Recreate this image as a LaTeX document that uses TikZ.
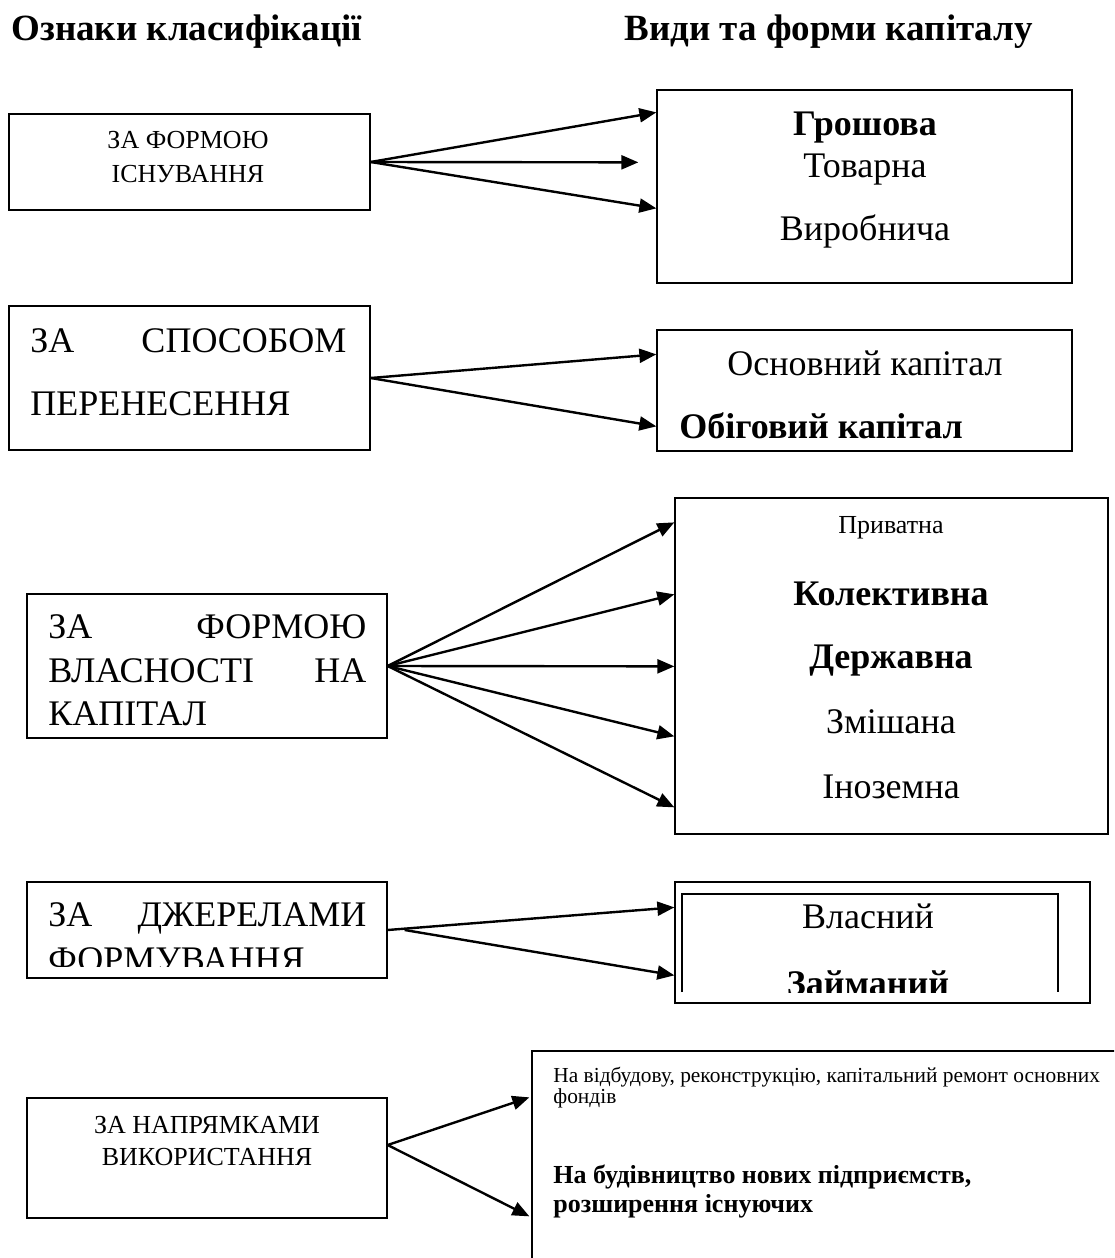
\documentclass[tikz,border=0pt]{standalone}
\usepackage{fontspec}
\setmainfont{Liberation Serif}
\usetikzlibrary{arrows.meta,calc}
\newcommand{\bigtxt}{\fontsize{18}{21.6}\selectfont}
\newcommand{\ttltxt}{\fontsize{18.5}{22}\selectfont}
\newcommand{\smltxt}{\fontsize{13}{15.6}\selectfont}
\newcommand{\tinytxt}{\fontsize{10.7}{12.8}\selectfont}
\tikzset{
	box/.style={draw, line width=0.65pt, inner sep=0pt},
	arr/.style={-{Triangle[length=8.5pt,width=7pt]}, line width=1.2pt},
	lbl/.style={inner sep=0pt, anchor=base},
	lblw/.style={inner sep=0pt, anchor=base west}
}
\begin{document}
\begin{tikzpicture}[x=0.5pt, y=-0.5pt]
		\useasboundingbox (0,0) rectangle (1114,1258);
		\clip (0,0) rectangle (1114,1258);
		\node[lblw] (ttlA) at (11,40) {\ttltxt\bfseries Ознаки класифікації};
		\node[lblw] (ttlB) at (624,40) {\ttltxt\bfseries Види та форми капіталу};

		\node[box, minimum width=180.5pt, minimum height=48pt] (fA) at (189.5,162) {};
		\node[box, minimum width=180.5pt, minimum height=72pt] (fB) at (189.5,378) {};
		\node[box, minimum width=180pt, minimum height=72pt] (fC) at (207,666) {};
		\node[box, minimum width=180pt, minimum height=48pt] (fD) at (207,930) {};
		\node[box, minimum width=180pt, minimum height=60pt] (fE) at (207,1158) {};

		\node[box, minimum width=207.5pt, minimum height=96.5pt] (vA) at (864.5,186.5) {};
		\node[box, minimum width=207.5pt, minimum height=60.5pt] (vB) at (864.5,390.5) {};
		\node[box, minimum width=216.5pt, minimum height=168pt] (vC) at (891.5,666) {};
		\node[box, minimum width=207.5pt, minimum height=60.5pt] (vD) at (882.5,942.5) {};
		\node[box, minimum width=299pt, minimum height=109.5pt] (vE) at (831,1160.5) {};
		\draw[line width=1pt] (682,992) -- (682,894) -- (1058,894) -- (1058,992);

		\node[lbl] (fA1) at (188,148) {\smltxt ЗА ФОРМОЮ};
		\node[lbl] (fA2) at (188,182) {\smltxt ІСНУВАННЯ};
		\node[lblw] (fB1) at (30,352) {\bigtxt\hbox to 158pt{ЗА\hfill СПОСОБОМ}};
		\node[lblw] (fB2) at (30,415) {\bigtxt ПЕРЕНЕСЕННЯ};
		\node[lblw] (fC1) at (48,638) {\bigtxt\hbox to 159pt{ЗА\hfill ФОРМОЮ}};
		\node[lblw] (fC2) at (48,682) {\bigtxt\hbox to 159pt{ВЛАСНОСТІ\hfill НА}};
		\node[lblw] (fC3) at (48,725) {\bigtxt КАПІТАЛ};
		\node[lblw] (fD1) at (48,926) {\bigtxt\hbox to 159pt{ЗА\hfill ДЖЕРЕЛАМИ}};
		\begin{scope}
			\clip (27,882) rectangle (387,966);
			\node[lblw] (fD2) at (48,971) {\bigtxt ФОРМУВАННЯ};
		\end{scope}
		\node[lbl] (fE1) at (207,1133) {\smltxt ЗА НАПРЯМКАМИ};
		\node[lbl] (fE2) at (207,1165) {\smltxt ВИКОРИСТАННЯ};

		\node[lbl] (vA1) at (865,135) {\bigtxt\bfseries Грошова};
		\node[lbl] (vA2) at (865,177) {\bigtxt Товарна};
		\node[lbl] (vA3) at (865,240) {\bigtxt Виробнича};
		\node[lbl] (vB1) at (865,375) {\bigtxt Основний капітал};
		\node[lblw] (vB2) at (679,438) {\bigtxt\bfseries Обіговий капітал};
		\node[lbl] (vC1) at (891,533) {\smltxt Приватна};
		\node[lbl] (vC2) at (891,605) {\bigtxt\bfseries Колективна};
		\node[lbl] (vC3) at (891,668) {\bigtxt\bfseries Державна};
		\node[lbl] (vC4) at (891,733) {\bigtxt Змішана};
		\node[lbl] (vC5) at (891,798) {\bigtxt Іноземна};
		\node[lbl] (vD1) at (868,928) {\bigtxt Власний};
		\begin{scope}
			\clip (682,894) rectangle (1058,992);
			\node[lbl] (vD2) at (868,995) {\bigtxt\bfseries Займаний};
		\end{scope}
		\node[lblw] (vE1) at (553,1082) {\tinytxt На відбудову, реконструкцію, капітальний ремонт основних};
		\node[lblw] (vE2) at (553,1103) {\tinytxt фондів};
		\node[lblw] (vE3) at (553,1183) {\smltxt\bfseries На будівництво нових підприємств,};
		\node[lblw] (vE4) at (553,1212) {\smltxt\bfseries розширення існуючих};

		\draw[arr] (fA.east) -- ($(vA.north west)+(0,23)$);
		\draw[arr] (fA.east) -- ($(vA.north west)+(-18,73)$);
		\draw[arr] (fA.east) -- ($(vA.north west)+(0,119)$);
		\draw[arr] (fB.east) -- ($(vB.north west)+(0,25)$);
		\draw[arr] (fB.east) -- ($(vB.north west)+(0,97)$);
		\foreach \dy in {25,97,169,239,310}
			\draw[arr] (fC.east) -- ($(vC.north west)+(0,\dy)$);
		\draw[arr] (fD.east) -- ($(vD.north west)+(0,26)$);
		\draw[arr] ($(fD.east)+(17,0)$) -- ($(vD.north west)+(0,94)$);
		\draw[arr] ($(fE.east)+(0,-13)$) -- ($(vE.north west)+(-2,47)$);
		\draw[arr] ($(fE.east)+(0,-13)$) -- ($(vE.north west)+(-2,166)$);
	\end{tikzpicture}
\end{document}
